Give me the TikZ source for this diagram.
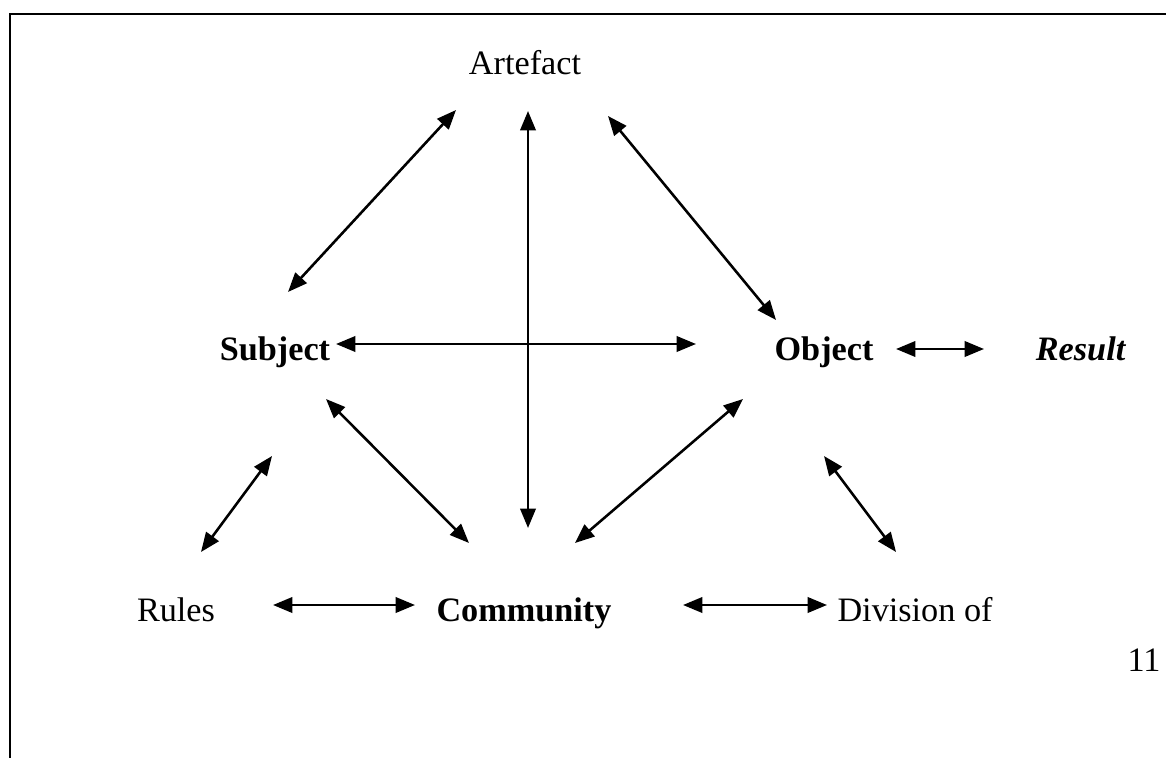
\documentclass[tikz,border=0pt]{standalone}
\usepackage{fontspec}
\setmainfont{Liberation Serif}
\usetikzlibrary{arrows.meta}

\tikzset{
  lbl/.style={inner sep=0pt, anchor=base, font=\fontsize{12}{14}\selectfont},
  link/.style={line width=0.9pt, {Triangle[length=6.8pt,width=5.4pt]}-{Triangle[length=6.8pt,width=5.4pt]}}
}

\begin{document}
\begin{tikzpicture}[x=0.3506pt, y=-0.3506pt]
        \useasboundingbox (0,0) rectangle (1166,758);
        \draw[line width=1pt] (10,758) -- (10,14) -- (1166,14);

        \node[lbl] (art) at (525,75) {Artefact};
        \node[lbl] (subj) at (275,361) {\textbf{Subject}};
        \node[lbl] (obj) at (824,361) {\textbf{Object}};
        \node[lbl] (res) at (1081,361) {\textbf{\textit{Result}}};
        \node[lbl] (rules) at (176,621) {Rules};
        \node[lbl] (comm) at (524,621) {\textbf{Community}};
        \node[lbl] (div) at (915,621) {Division of};
        \node[lbl] (pg) at (1144,671) {11};

        \draw[link] ([shift={(13,-69)}]subj.base) -- ([shift={(-69,35)}]art.base);
        \draw[link] ([shift={(3,36)}]art.base) -- ([shift={(4,-93)}]comm.base);
        \draw[link] ([shift={(83,41)}]art.base) -- ([shift={(-48,-41)}]obj.base);
        \draw[link] ([shift={(61,-17)}]subj.base) -- ([shift={(-128,-17)}]obj.base);
        \draw[link] ([shift={(72,-12)}]obj.base) -- ([shift={(-97,-12)}]res.base);
        \draw[link] ([shift={(25,-69)}]rules.base) -- ([shift={(-3,95)}]subj.base);
        \draw[link] ([shift={(51,38)}]subj.base) -- ([shift={(-55,-78)}]comm.base);
        \draw[link] ([shift={(51,-78)}]comm.base) -- ([shift={(-81,38)}]obj.base);
        \draw[link] ([shift={(0,95)}]obj.base) -- ([shift={(-19,-69)}]div.base);
        \draw[link] ([shift={(97,-16)}]rules.base) -- ([shift={(-109,-16)}]comm.base);
        \draw[link] ([shift={(159,-16)}]comm.base) -- ([shift={(-88,-16)}]div.base);
      \end{tikzpicture}
\end{document}
